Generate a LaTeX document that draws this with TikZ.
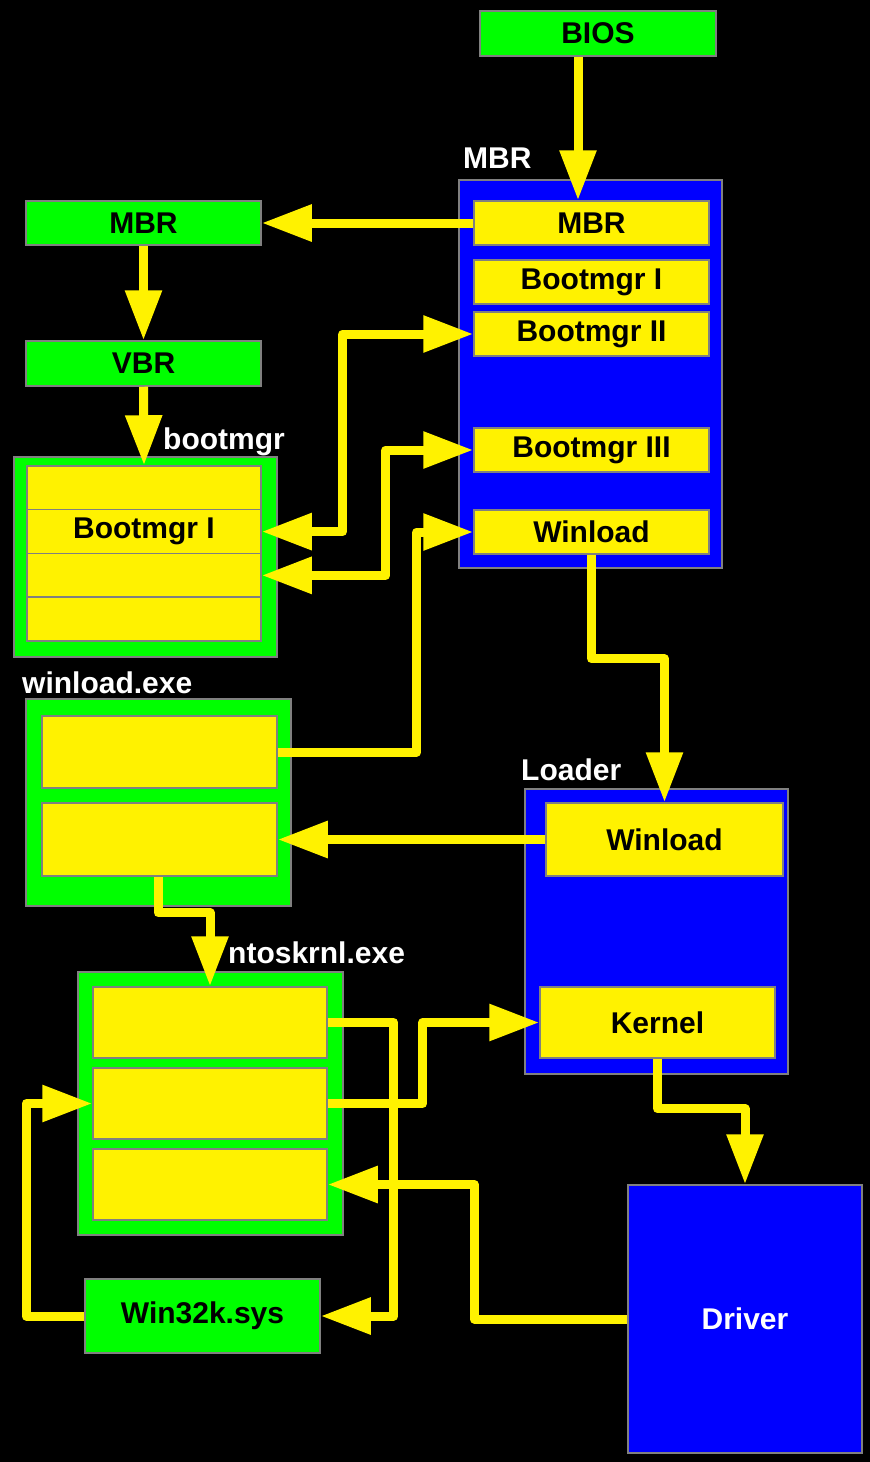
\documentclass[tikz,border=0pt]{standalone}
\usepackage{fontspec}
\setmainfont{Liberation Sans}
\usetikzlibrary{arrows.meta}
\newcommand\boxfont{\fontsize{30}{36}\selectfont\bfseries}

\begin{document}
\begin{tikzpicture}[x=1pt, y=-1pt,
    >={Triangle[length=50pt,width=35pt]},
    frame/.style={draw=gray, line width=1.5pt, inner sep=0pt, font=\boxfont},
    gbox/.style={frame, fill=green},
    ybox/.style={frame, fill=yellow},
    bbox/.style={frame, fill=blue},
    tag/.style={text=white, font=\boxfont, anchor=base west, inner sep=0pt},
    flow/.style={draw=yellow, line width=9pt, line join=round}]

    % Background
    \fill[black] (0,0) rectangle (870,1462);
    \useasboundingbox (0,0) rectangle (870,1462);

    % Left column
    \node[gbox, minimum width=236pt, minimum height=45pt] (bios) at (598,33.5) {BIOS};
    \node[gbox, minimum width=235pt, minimum height=44pt] (mbrCopy) at (143.5,223) {MBR};
    \node[gbox, minimum width=235pt, minimum height=45pt] (vbr) at (143.5,363.5) {VBR};

    % MBR
    \node[bbox, minimum width=263pt, minimum height=388pt] (mbr) at (590.5,374) {};
    \node[tag] (mbrTag) at (463,168) {MBR};
    \foreach \n/\y/\t in {mbrCode/223/MBR, bmI/282/Bootmgr I, bmII/334/Bootmgr II, bmIII/450/Bootmgr III, mbrWinload/532/Winload}
        \node[ybox, minimum width=235pt, minimum height=44pt] (\n) at (591.5,\y) {\t};

    % bootmgr
    \node[gbox, minimum width=263pt, minimum height=200pt] (bootmgr) at (145.5,557) {};
    \node[tag] (bootmgrTag) at (163,449) {bootmgr};
    \foreach \i/\t in {1/{}, 2/Bootmgr I, 3/{}, 4/{}}
        \node[ybox, minimum width=234pt, minimum height=43.75pt] (bmgr\i) at (144,{444.1+43.75*\i}) {\t};

    % winload.exe
    \node[gbox, minimum width=265pt, minimum height=207pt] (winload) at (158.5,802.5) {};
    \node[tag] (winloadTag) at (22,693) {winload.exe};
    \node[ybox, minimum width=235pt, minimum height=72pt] (wl1) at (159.5,752) {};
    \node[ybox, minimum width=235pt, minimum height=73pt] (wl2) at (159.5,839.5) {};

    % Loader
    \node[bbox, minimum width=263pt, minimum height=285pt] (loader) at (656.5,931.5) {};
    \node[tag] (loaderTag) at (521,780) {Loader};
    \node[ybox, minimum width=237pt, minimum height=73pt] (ldWinload) at (664.5,839.5) {Winload};
    \node[ybox, minimum width=235pt, minimum height=71pt] (kernel) at (657.5,1022.5) {Kernel};

    % ntoskrnl.exe
    \node[gbox, minimum width=265pt, minimum height=263pt] (ntoskrnl) at (210.5,1103.5) {};
    \node[tag] (ntoskrnlTag) at (228,963) {ntoskrnl.exe};
    \foreach \i in {1,2,3}
        \node[ybox, minimum width=234pt, minimum height=71pt] (nt\i) at (210,{941.5+81*\i}) {};

    \node[gbox, minimum width=235pt, minimum height=74pt] (win32k) at (202.5,1316) {Win32k.sys};
    \node[bbox, text=white, minimum width=234pt, minimum height=268pt] (driver) at (745,1319) {Driver};

    % Flows
    \draw[flow, ->] ([xshift=-20pt]bios.south) -- ([xshift=-20pt]bios.south |- mbrCode.north);
    \draw[flow, ->] (mbrCode.west) -- (mbrCopy.east);
    \draw[flow, ->] (mbrCopy.south) -- (vbr.north);
    \draw[flow, ->] (vbr.south) -- (bmgr1.north);
    \draw[flow, <->] (bmgr2.east) -- ++(81,0) |- (bmII.west);
    \draw[flow, <->] (bmgr3.east) -- ++(124,0) |- (bmIII.west);
    \draw[flow, ->] (wl1.east) -- ++(139,0) |- (mbrWinload.west);
    \draw[flow, ->] (mbrWinload.south) -- ++(0,104) -| (ldWinload.north);
    \draw[flow, ->] (ldWinload.west) -- (wl2.east);
    \draw[flow, ->] ([xshift=-1.5pt]wl2.south) -- ++(0,36) -| (nt1.north);
    \draw[flow, ->] (nt1.east) -- ++(66,0) |- (win32k.east);
    \draw[flow, ->] (win32k.west) -- ++(-58,0) |- (nt2.west);
    \draw[flow, ->] (nt2.east) -- ++(95,0) |- (kernel.west);
    \draw[flow, ->] (kernel.south) -- ++(0,50) -| (driver.north);
    \draw[flow, ->] (driver.west) -- ++(-153,0) |- (nt3.east);
\end{tikzpicture}
\end{document}
